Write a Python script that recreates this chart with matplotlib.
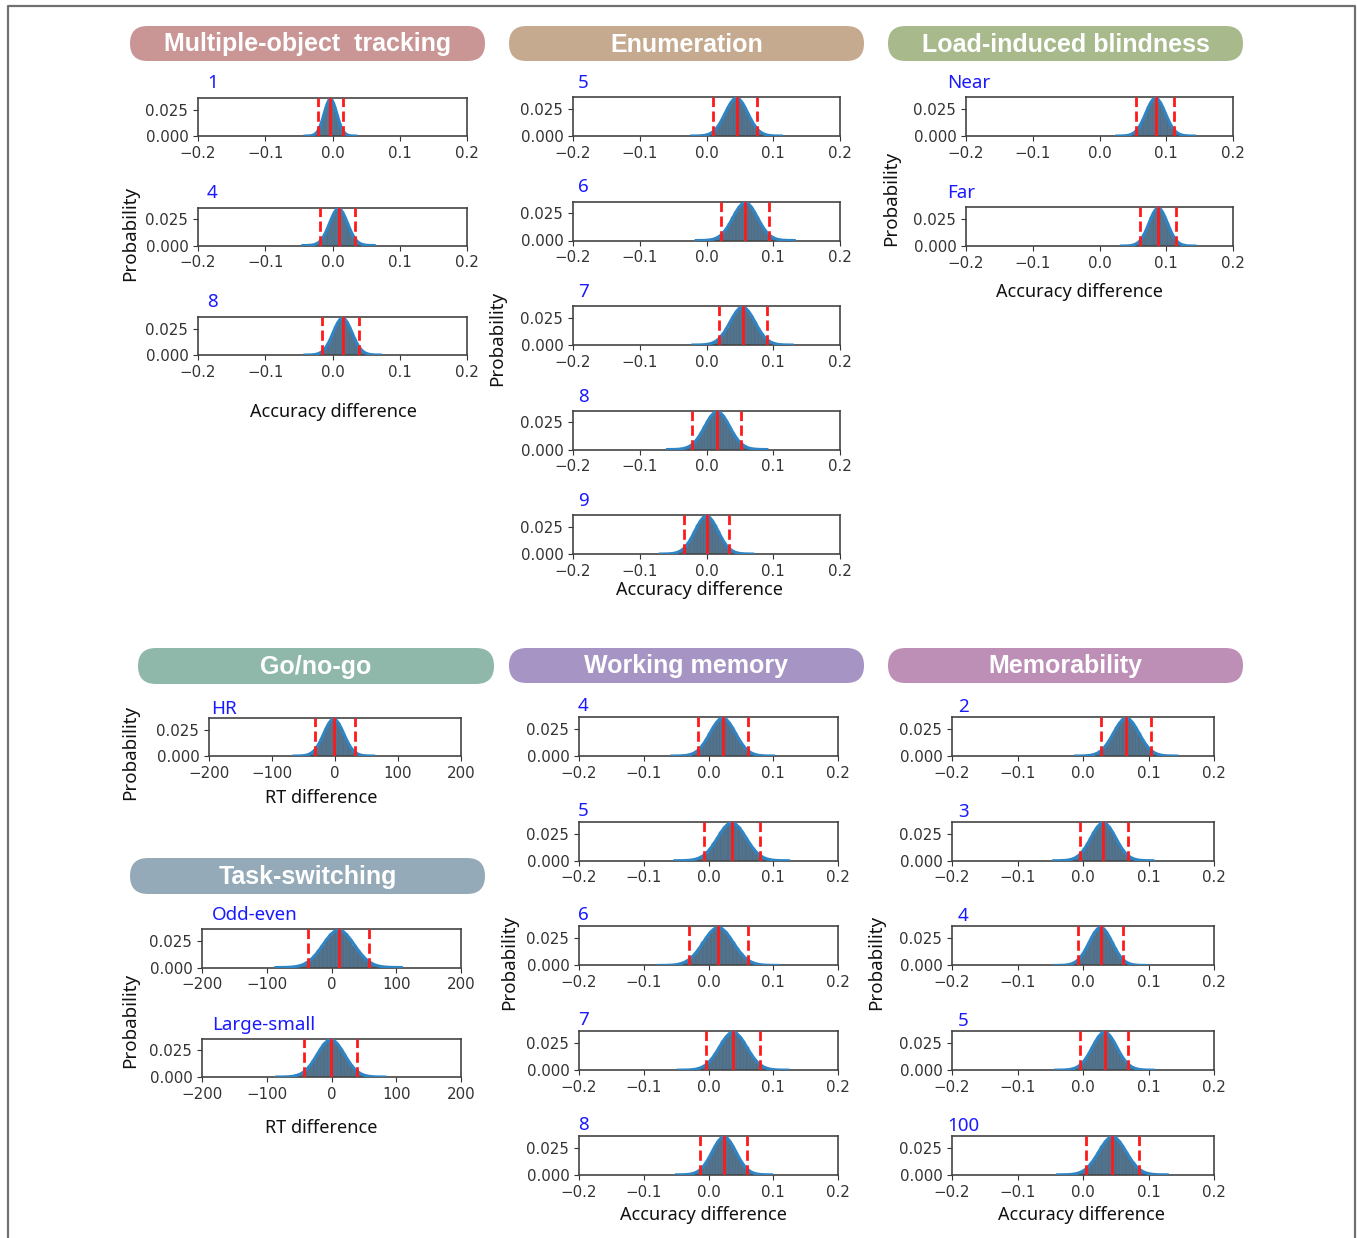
import numpy as np
import matplotlib
matplotlib.use("Agg")
import matplotlib.pyplot as plt
from matplotlib.patches import FancyBboxPatch

# ---- data ----
# bell shape of the bootstrap histograms (relative height, one value per quarter sd)
profile_z = [-4.0, -3.75, -3.5, -3.25, -3.0, -2.75, -2.5, -2.25, -2.0, -1.75, -1.5,
             -1.25, -1.0, -0.75, -0.5, -0.25, 0.0, 0.25, 0.5, 0.75, 1.0, 1.25, 1.5,
             1.75, 2.0, 2.25, 2.5, 2.75, 3.0, 3.25, 3.5, 3.75, 4.0]
profile_h = [0.0, 0.001, 0.002, 0.005, 0.011, 0.023, 0.044, 0.080, 0.135, 0.216, 0.325,
             0.458, 0.607, 0.755, 0.882, 0.969, 1.0, 0.969, 0.882, 0.755, 0.607, 0.458,
             0.325, 0.216, 0.135, 0.080, 0.044, 0.023, 0.011, 0.005, 0.002, 0.001, 0.0]
peak_prob = 0.035

mot_labels = ["1", "4", "8"]
mot_mean = [-0.003, 0.009, 0.015]
mot_lo = [-0.021, -0.018, -0.015]
mot_hi = [0.016, 0.034, 0.040]

enum_labels = ["5", "6", "7", "8", "9"]
enum_mean = [0.045, 0.058, 0.054, 0.016, 0.000]
enum_lo = [0.010, 0.021, 0.018, -0.021, -0.034]
enum_hi = [0.076, 0.093, 0.091, 0.052, 0.034]

lib_labels = ["Near", "Far"]
lib_mean = [0.084, 0.088]
lib_lo = [0.055, 0.061]
lib_hi = [0.112, 0.115]

go_labels = ["HR"]
go_mean = [-2]
go_lo = [-31]
go_hi = [31]

ts_labels = ["Odd-even", "Large-small"]
ts_mean = [11, -1]
ts_lo = [-37, -42]
ts_hi = [58, 40]

wm_labels = ["4", "5", "6", "7", "8"]
wm_mean = [0.022, 0.036, 0.015, 0.038, 0.024]
wm_lo = [-0.016, -0.007, -0.030, -0.004, -0.013]
wm_hi = [0.061, 0.079, 0.061, 0.079, 0.059]

mem_labels = ["2", "3", "4", "5", "100"]
mem_mean = [0.066, 0.031, 0.027, 0.033, 0.045]
mem_lo = [0.028, -0.005, -0.008, -0.004, 0.004]
mem_hi = [0.104, 0.069, 0.061, 0.069, 0.086]

acc_ticks = [-0.2, -0.1, 0.0, 0.1, 0.2]
rt_ticks = [-200, -100, 0, 100, 200]

# ---- figure ----
W, H = 1357, 1238
fig = plt.figure(figsize=(W / 100, H / 100), dpi=100)
bg = fig.add_axes([0, 0, 1, 1])
bg.set_xlim(0, W)
bg.set_ylim(H, 0)
bg.axis("off")

label_font = ["Noto Sans", "DejaVu Sans"]

# frame around the figure
bg.plot([8, 8, 1355, 1355], [H, 6, 6, H], color="#707070", lw=1.6)


def header(x0, x1, y0, y1, color, text):
    box = FancyBboxPatch((x0, y0), x1 - x0, y1 - y0,
                         boxstyle="round,pad=0,rounding_size=%g" % ((y1 - y0) / 2),
                         fc=color, ec="none")
    bg.add_patch(box)
    bg.text((x0 + x1) / 2, (y0 + y1) / 2 + 1, text, ha="center", va="center",
            color="white", fontsize=18, fontweight="bold", family="Liberation Sans")


def panel(x0, x1, ytop, ybot, mean, lo, hi, ticks, name, name_x, name_y):
    ax = fig.add_axes([x0 / W, 1 - ybot / H, (x1 - x0) / W, (ybot - ytop) / H])
    sd = (hi - lo) / 3.92
    xs = mean + np.array(profile_z) * sd
    ys = np.array(profile_h) * peak_prob
    ax.bar(xs, ys, width=sd * 0.25, color="#4f6f89", edgecolor="#5f7f98",
           linewidth=0.3, zorder=2)
    ax.plot(xs, ys, color="#2f84c4", lw=2.2, zorder=3)
    ax.axvline(mean, color="#ff1a1a", lw=2, zorder=4)
    ax.axvline(lo, color="#ff1a1a", lw=2, ls="--", zorder=4)
    ax.axvline(hi, color="#ff1a1a", lw=2, ls="--", zorder=4)
    ax.set_xlim(ticks[0], ticks[-1])
    ax.set_ylim(0, 0.036)
    ax.set_xticks(ticks)
    ax.set_yticks([0.0, 0.025])
    if isinstance(ticks[0], float):
        ax.set_xticklabels([("%.1f" % t).replace("-", "\u2212") for t in ticks])
    ax.set_yticklabels(["0.000", "0.025"])
    ax.tick_params(labelsize=10.8, labelcolor="#333333", color="#333333")
    for s in ax.spines.values():
        s.set_color("#444444")
        s.set_linewidth(1.2)
    bg.text(name_x, name_y, name, ha="left", va="center", color="#1a1aff",
            fontsize=13.5, family=label_font)
    return ax


def xlabel(x, y, text):
    bg.text(x, y, text, ha="center", va="center", fontsize=13, family=label_font,
            color="#111111")


def ylabel(x, y, text):
    bg.text(x, y, text, ha="center", va="center", fontsize=13.5, family=label_font,
            color="#111111", rotation=90)


# headers
header(130, 485, 26, 61, "#c99595", "Multiple-object  tracking")
header(509, 864, 26, 61, "#c6aa8f", "Enumeration")
header(888, 1243, 26, 61, "#a8b98c", "Load-induced blindness")
header(138, 494, 648, 684, "#8fb8aa", "Go/no-go")
header(509, 864, 648, 683, "#a594c4", "Working memory")
header(888, 1243, 648, 683, "#bd8fb7", "Memorability")
header(130, 485, 858, 894, "#94aab8", "Task-switching")

# Multiple-object tracking
for i, (lab, m, lo, hi) in enumerate(zip(mot_labels, mot_mean, mot_lo, mot_hi)):
    top = 98 + i * 109.5
    panel(198, 467, top, top + 38, m, lo, hi, acc_ticks, lab, 207, top - 15)
ylabel(130, 233, "Probability")
xlabel(333, 412, "Accuracy difference")

# Enumeration
for i, (lab, m, lo, hi) in enumerate(zip(enum_labels, enum_mean, enum_lo, enum_hi)):
    top = 97 + i * 104.5
    panel(573, 840, top, top + 39, m, lo, hi, acc_ticks, lab, 578, top - 14)
ylabel(497, 338, "Probability")
xlabel(700, 590, "Accuracy difference")

# Load-induced blindness
for i, (lab, m, lo, hi) in enumerate(zip(lib_labels, lib_mean, lib_lo, lib_hi)):
    top = 97 + i * 110
    panel(966, 1233, top, top + 39, m, lo, hi, acc_ticks, lab, 947, top - 14)
ylabel(891, 198, "Probability")
xlabel(1080, 292, "Accuracy difference")

# Go/no-go
for i, (lab, m, lo, hi) in enumerate(zip(go_labels, go_mean, go_lo, go_hi)):
    panel(209, 461, 718, 756, m, lo, hi, rt_ticks, lab, 211, 709)
ylabel(130, 752, "Probability")
xlabel(321, 798, "RT difference")

# Task-switching
for i, (lab, m, lo, hi) in enumerate(zip(ts_labels, ts_mean, ts_lo, ts_hi)):
    top = 929 + i * 109.5
    panel(202, 461, top, top + 38.5, m, lo, hi, rt_ticks, lab, 212, top - 14)
ylabel(130, 1020, "Probability")
xlabel(321, 1128, "RT difference")

# Working memory
for i, (lab, m, lo, hi) in enumerate(zip(wm_labels, wm_mean, wm_lo, wm_hi)):
    top = 717 + i * 104.7
    panel(579, 838, top, top + 39, m, lo, hi, acc_ticks, lab, 578, top - 11)
ylabel(509, 962, "Probability")
xlabel(704, 1215, "Accuracy difference")

# Memorability
for i, (lab, m, lo, hi) in enumerate(zip(mem_labels, mem_mean, mem_lo, mem_hi)):
    top = 717 + i * 104.7
    nx = 947 if lab == "100" else 958
    panel(952, 1214, top, top + 39, m, lo, hi, acc_ticks, lab, nx, top - 10)
ylabel(876, 962, "Probability")
xlabel(1081, 1215, "Accuracy difference")

fig.savefig("out.png", dpi=100)
